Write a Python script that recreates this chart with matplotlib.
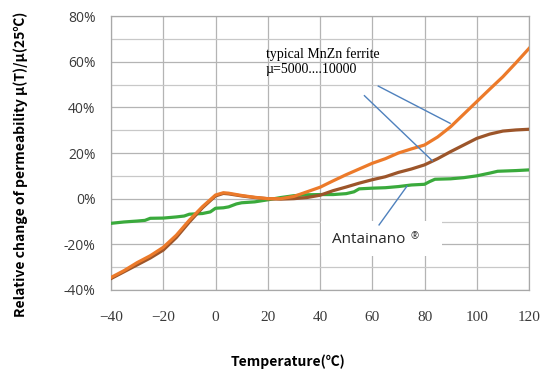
import numpy as np
import matplotlib
matplotlib.use("Agg")
import matplotlib.pyplot as plt
from matplotlib.patches import Rectangle

## Values
temp_mnzn = [-40, -35, -30, -25, -20, -15, -10, -5, 0, 3, 5, 10, 15, 20, 25, 30, 35,
             40, 45, 50, 55, 60, 65, 70, 75, 80, 85, 90, 95, 100, 105, 110, 115, 120]
orange = [-34.5, -31.5, -28, -25, -21.3, -16, -9.4, -3.5, 1.6, 2.6, 2.4, 1.4, 0.6, 0, 0, 1, 3,
          5, 7.8, 10.5, 13, 15.5, 17.5, 20, 21.8, 23.5, 27, 31.5, 37, 42.5, 48, 53.4, 59.5, 65.8]
brown = [-35, -32, -29, -26, -22.5, -17, -10.2, -4, 1.2, 2.3, 2.1, 1.2, 0.5, 0, -0.2, 0, 0.5,
         1.5, 3.5, 5.1, 6.8, 8.3, 9.6, 11.5, 13, 14.8, 17.5, 20.6, 23.5, 26.4, 28.3, 29.6, 30.1, 30.4]

temp_nano = [-40, -35, -30, -27, -25, -20, -15, -12, -10, -5, -2, 0, 3, 5, 8, 10, 15, 20,
             25, 30, 35, 40, 45, 50, 53, 55, 60, 65, 70, 75, 80, 82, 84, 90, 95, 100, 105, 108, 115, 120]
green = [-10.8, -10.2, -9.8, -9.5, -8.6, -8.5, -8.0, -7.6, -6.8, -6.5, -5.8, -4.2, -4.0, -3.6, -2.3, -1.8, -1.4, -0.5,
         0.5, 1.3, 1.7, 1.8, 1.8, 2.2, 3.0, 4.3, 4.6, 4.8, 5.3, 6.0, 6.3, 7.5, 8.5, 8.7, 9.2, 10, 11.2, 12, 12.3, 12.6]

x_ticks = [-40, -20, 0, 20, 40, 60, 80, 100, 120]
y_ticks = [-40, -20, 0, 20, 40, 60, 80]

# annotation pointer lines (start, end) in data coords
ptr_mnzn1 = [(62.3, 49.3), (89.8, 33.0)]
ptr_mnzn2 = [(57.0, 45.1), (83.0, 16.6)]
ptr_nano = [(62.6, -11.5), (73.3, 5.5)]

fig = plt.figure(figsize=(5.54, 3.74), dpi=100)
ax = fig.add_axes([0.2004, 0.2246, 0.7545, 0.7326])

ax.set_xlim(-40, 120)
ax.set_ylim(-40, 80)
ax.set_xticks(x_ticks)
ax.set_yticks(y_ticks)
ax.set_yticks(np.arange(-30, 80, 20), minor=True)
ax.grid(True, which="major", color="#b4b4b4", linewidth=0.9)
ax.grid(True, which="minor", axis="y", color="#c8c8c8", linewidth=0.9)
ax.tick_params(which="both", length=0)
ax.set_axisbelow(True)
for s in ax.spines.values():
    s.set_color("#a8a8a8")
    s.set_linewidth(0.9)

ax.set_yticklabels([f"{v}%" for v in y_ticks], family="Open Sans", fontsize=10, color="#3a3a3a")
ax.set_xticklabels([str(v).replace("-", "\u2212") for v in x_ticks], family="Liberation Serif",
                   fontsize=11, color="#3a3a3a")
ax.tick_params(axis="y", pad=11)
ax.tick_params(axis="x", pad=15)

ax.plot(temp_nano, green, color="#3aaa3c", linewidth=2.3, zorder=3)
ax.plot(temp_mnzn, brown, color="#9c552a", linewidth=2.3, zorder=4)
ax.plot(temp_mnzn, orange, color="#ec7a2a", linewidth=2.3, zorder=5)

# white label box for Antainano
ax.add_patch(Rectangle((40.4, -25.3), 46.2, 15.5, facecolor="white", edgecolor="none", zorder=2))

for p in (ptr_mnzn1, ptr_mnzn2, ptr_nano):
    ax.plot([p[0][0], p[1][0]], [p[0][1], p[1][1]], color="#4f81bd", linewidth=1.0, zorder=6)

ax.text(19.3, 60.0, "typical MnZn ferrite\n\u00b5=5000....10000", family="Liberation Serif",
        fontsize=10, va="center", ha="left", linespacing=1.2, zorder=7)

ax.text(44.5, -19.3, "Antainano", family="Open Sans", fontsize=11, color="#262626",
        va="baseline", ha="left", zorder=8)
ax.text(74.6, -17.7, "\u00ae", family="Open Sans", fontsize=7, color="#262626",
        va="baseline", ha="left", zorder=9)

fig.text(0.519, 0.033, "Temperature(\u2103)", ha="center", va="center", fontsize=10,
         fontweight="bold", family=["Noto Sans CJK SC", "DejaVu Sans"])
fig.text(0.038, 0.5615, "Relative change of permeability \u00b5(T)/\u00b5(25\u2103)", ha="center",
         va="center", rotation=90, fontsize=10, fontweight="bold",
         family=["Noto Sans CJK SC", "DejaVu Sans"])

fig.savefig("out.png", dpi=100)
